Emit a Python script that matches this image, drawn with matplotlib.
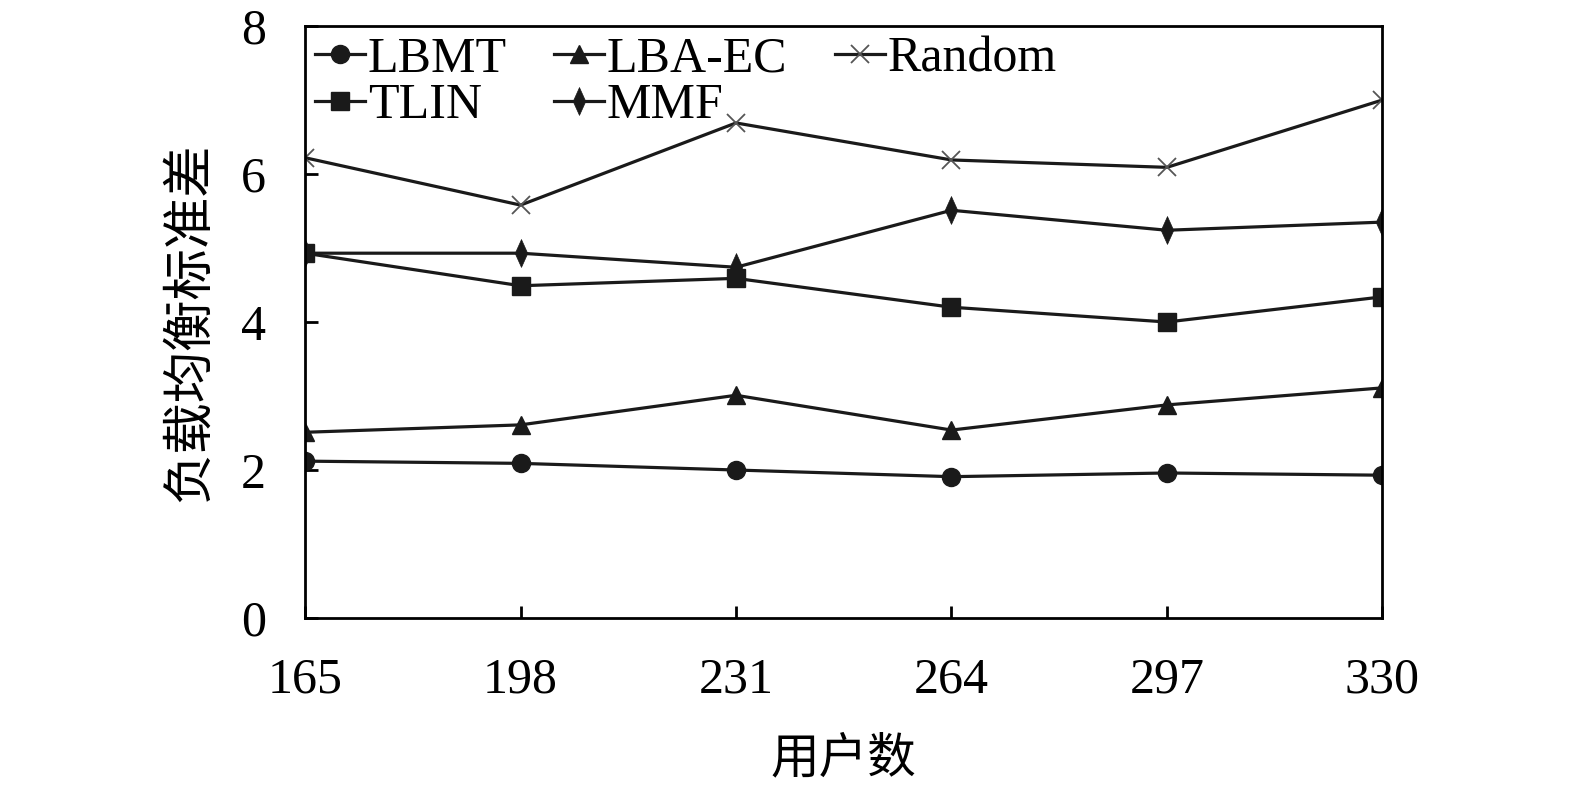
import matplotlib
matplotlib.use("Agg")
import matplotlib.pyplot as plt

users = [165, 198, 231, 264, 297, 330]
lbmt = [2.12, 2.09, 2.00, 1.91, 1.96, 1.93]
tlin = [4.93, 4.49, 4.59, 4.20, 4.00, 4.34]
lbaec = [2.51, 2.61, 3.01, 2.54, 2.88, 3.11]
mmf = [4.93, 4.93, 4.74, 5.51, 5.24, 5.35]
rand = [6.22, 5.58, 6.69, 6.19, 6.09, 7.00]
yticks = [0, 2, 4, 6, 8]

serif = ['Liberation Serif', 'DejaVu Serif']
cjk = ['Noto Sans CJK SC', 'DejaVu Sans']

fig = plt.figure(figsize=(15.75, 7.88), dpi=100)
ax = fig.add_axes([0.1937, 0.2157, 0.684, 0.7513])

lw = 2.3
c = '#1a1a1a'
diamond = [(0, 1), (0.45, 0), (0, -1), (-0.45, 0), (0, 1)]
ax.plot(users, lbmt, '-o', color=c, lw=lw, ms=13, label='LBMT')
ax.plot(users, tlin, '-s', color=c, lw=lw, ms=13, label='TLIN')
ax.plot(users, lbaec, '-^', color=c, lw=lw, ms=13, label='LBA-EC')
ax.plot(users, mmf, '-', marker=diamond, color=c, lw=lw, ms=20, markeredgewidth=0.5, label='MMF')
ax.plot(users, rand, '-x', color=c, lw=lw, ms=13, markeredgewidth=1.3, markeredgecolor='#555555', label='Random')

ax.set_xlim(165, 330)
ax.set_ylim(0, 8)
ax.set_xticks(users)
ax.set_yticks(yticks)
ax.tick_params(direction='in', length=9, width=2, pad=28)
for lab in ax.get_xticklabels() + ax.get_yticklabels():
    lab.set_family(serif)
    lab.set_fontsize(36)
for s in ax.spines.values():
    s.set_linewidth(2)

ax.set_xlabel('用户数', family=cjk, fontsize=35, labelpad=22)
ax.set_ylabel('负载均衡标准差', family=cjk, fontsize=37, labelpad=18)

leg = ax.legend(ncol=3, loc='upper left', frameon=False, prop={'family': serif, 'size': 36},
                handlelength=1.0, handletextpad=0.05, columnspacing=0.95, labelspacing=0.0,
                borderaxespad=0.1, borderpad=0.1)

fig.savefig('out.png', dpi=100)
